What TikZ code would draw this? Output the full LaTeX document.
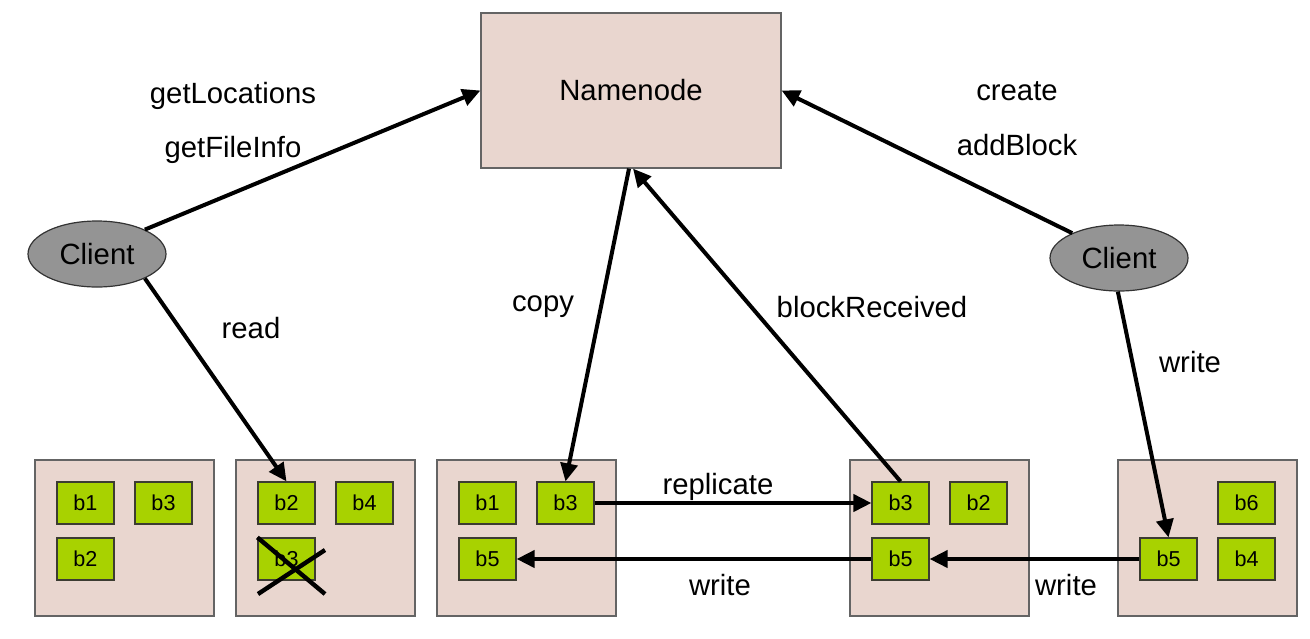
\documentclass[tikz,border=0pt]{standalone}
\usepackage{fontspec}
\setmainfont{Liberation Sans}
\usetikzlibrary{arrows.meta,shapes.geometric}
\definecolor{boxfill}{RGB}{233,214,207}
\definecolor{boxline}{RGB}{100,100,100}
\definecolor{blkfill}{RGB}{168,210,0}
\definecolor{blkline}{RGB}{60,60,50}
\definecolor{clfill}{RGB}{148,148,148}
\tikzset{
  lbl/.style={font=\fontsize{14.65pt}{17pt}\selectfont, inner sep=0pt},
  dnode/.style={draw=boxline, fill=boxfill, line width=0.6pt, minimum width=89.5pt, minimum height=78pt, inner sep=0pt},
  nnode/.style={draw=boxline, fill=boxfill, line width=0.6pt, minimum width=150pt, minimum height=77.5pt, inner sep=0pt, font=\fontsize{14.65pt}{17pt}\selectfont},
  blk/.style={draw=blkline, fill=blkfill, line width=0.6pt, minimum width=28.5pt, minimum height=21pt, inner sep=0pt, font=\fontsize{10.8pt}{12pt}\selectfont},
  client/.style={ellipse, draw=black!80, fill=clfill, line width=0.6pt, minimum width=69pt, minimum height=33pt, inner sep=0pt, font=\fontsize{14.65pt}{17pt}\selectfont},
  conn/.style={line width=2pt, -{Triangle[length=9pt, width=8.5pt]}},
  crossline/.style={line width=2.2pt}
}
\begin{document}
\begin{tikzpicture}[x=0.5pt, y=-0.5pt]
\useasboundingbox (0,0) rectangle (1310,638);
% Namenode
\node[nnode] (nn) at (631,90.5) {Namenode};
% Clients
\node[client] (cl) at (97,254) {Client};
\node[client] (cr) at (1119,258) {Client};
% Datanodes
\node[dnode] (d1) at (124.5,538) {};
\node[dnode] (d2) at (325.5,538) {};
\node[dnode] (d3) at (526.5,538) {};
\node[dnode] (d4) at (939.5,538) {};
\node[dnode] (d5) at (1207.5,538) {};
% blocks d1
\node[blk] (b11) at (85.5,503) {b1};
\node[blk] (b12) at (163.5,503) {b3};
\node[blk] (b13) at (85.5,559) {b2};
% blocks d2
\node[blk] (b21) at (286.5,503) {b2};
\node[blk] (b22) at (364.5,503) {b4};
\node[blk] (b23) at (286.5,559) {b3};
% blocks d3
\node[blk] (b31) at (487.5,503) {b1};
\node[blk] (b32) at (565.5,503) {b3};
\node[blk] (b33) at (487.5,559) {b5};
% blocks d4
\node[blk] (b41) at (900.5,503) {b3};
\node[blk] (b42) at (978.5,503) {b2};
\node[blk] (b43) at (900.5,559) {b5};
% blocks d5
\node[blk] (b51) at (1246.5,503) {b6};
\node[blk] (b52) at (1168.5,559) {b5};
\node[blk] (b53) at (1246.5,559) {b4};
% cross on b3 in d2
\draw[crossline] (b23.north west) -- ([shift={(38.5,35)}]b23.center);
\draw[crossline] ([shift={(-28.5,35)}]b23.center) -- ([shift={(38.5,-9)}]b23.center);
% connectors
\draw[conn] (cl.27) -- (nn.west);
\draw[conn] (cl.-27) -- (b21.north);
\draw[conn] (cr.152) -- (nn.east);
\draw[conn] (cr.-92) -- (b52.north);
\draw[conn] ([xshift=-1pt]nn.south) -- (b32.north);
\draw[conn] (b41.north) -- ([xshift=1pt]nn.south);
\draw[conn] (b32.east) -- (b41.west);
\draw[conn] (b43.west) -- (b33.east);
\draw[conn] (b52.west) -- (b43.east);
% labels
\node[lbl] (t1) at (233,96) {getLocations};
\node[lbl] (t2) at (233,150) {getFileInfo};
\node[lbl] (t3) at (251,328) {read};
\node[lbl] (t4) at (543,307) {copy};
\node[lbl] (t5) at (872,307) {blockReceived};
\node[lbl] (t6) at (1017,91) {create};
\node[lbl] (t7) at (1017,145) {addBlock};
\node[lbl] (t8) at (1190,362) {write};
\node[lbl] (t9) at (718,487) {replicate};
\node[lbl] (t10) at (720,585) {write};
\node[lbl] (t11) at (1066,585) {write};
\end{tikzpicture}
\end{document}
